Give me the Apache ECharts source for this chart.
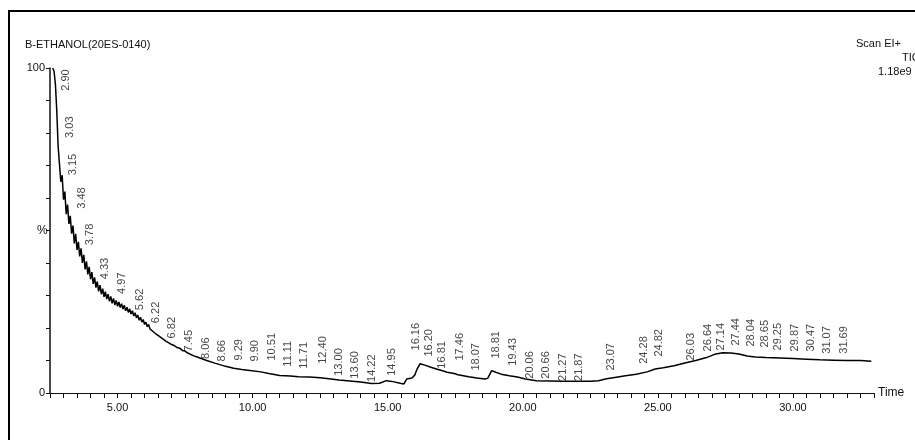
<!DOCTYPE html>
<html>
<head>
<meta charset="utf-8">
<script src="https://cdn.jsdelivr.net/npm/echarts@6/dist/echarts.min.js"></script>
<style>
  html, body { margin: 0; padding: 0; background: #fff; }
  #chart { width: 915px; height: 440px; }
</style>
</head>
<body>
<div id="chart"></div>
<script>
// TIC trace, retention time (min) and relative intensity (%)
const traceTimes = [
    2.60, 2.65, 2.70, 2.75, 2.80, 2.85, 2.90, 2.95, 3.00, 3.05,
    3.10, 3.15, 3.20, 3.25, 3.30, 3.35, 3.40, 3.45, 3.50, 3.55,
    3.60, 3.65, 3.70, 3.75, 3.80, 3.85, 3.90, 3.95, 4.00, 4.05,
    4.10, 4.15, 4.20, 4.25, 4.30, 4.35, 4.40, 4.45, 4.50, 4.55,
    4.60, 4.65, 4.70, 4.75, 4.80, 4.85, 4.90, 4.95, 5.00, 5.05,
    5.10, 5.15, 5.20, 5.25, 5.30, 5.35, 5.40, 5.45, 5.50, 5.55,
    5.60, 5.65, 5.70, 5.75, 5.80, 5.85, 5.90, 5.95, 6.00, 6.05,
    6.10, 6.15, 6.20, 6.25, 6.30, 6.35, 6.40, 6.45, 6.50, 6.55,
    6.60, 6.65, 6.70, 6.75, 6.80, 6.85, 6.90, 6.95, 7.00, 7.10,
    7.20, 7.30, 7.40, 7.50, 7.60, 7.80, 8.00, 8.30, 8.60, 9.00,
    9.30, 9.60, 9.90, 10.30, 10.60, 11.00, 11.40, 11.70, 12.10, 12.50,
    12.90, 13.20, 13.60, 14.00, 14.40, 14.70, 14.95, 15.20, 15.50, 15.60,
    15.70, 15.90, 16.00, 16.10, 16.20, 16.40, 16.60, 16.80, 17.00, 17.20,
    17.46, 17.60, 17.80, 18.00, 18.30, 18.60, 18.70, 18.85, 19.00, 19.20,
    19.50, 19.80, 20.10, 20.50, 21.00, 21.50, 22.00, 22.50, 22.80, 23.10,
    23.40, 23.80, 24.20, 24.60, 24.90, 25.20, 25.60, 26.00, 26.40, 26.80,
    27.10, 27.40, 27.70, 28.00, 28.30, 28.60, 29.00, 29.50, 30.00, 30.50,
    31.00, 31.50, 32.00, 32.50, 32.90
];
const traceValues = [
    100, 99, 95, 87, 76, 70.5, 65, 67, 59.5, 62,
    55, 58, 52, 54.5, 49, 51.5, 46, 49, 44, 46.5,
    42, 44.5, 40, 42.5, 38, 40.5, 36.5, 38.8, 35, 37.2,
    33.6, 35.6, 32.4, 34.3, 31.3, 33.2, 30.4, 32.1, 29.6, 31.2,
    28.9, 30.4, 28.2, 29.7, 27.6, 29.1, 27.1, 28.5, 26.7, 28.0,
    26.3, 27.5, 25.8, 27.0, 25.3, 26.4, 24.8, 25.9, 24.3, 25.3,
    23.7, 24.7, 23.1, 24.0, 22.4, 23.3, 21.8, 22.6, 21.1, 21.8,
    20.4, 21.1, 19.7, 20.3, 19.0, 19.6, 18.3, 18.9, 17.7, 18.1,
    17.1, 17.5, 16.5, 16.9, 15.9, 16.2, 15.4, 15.6, 14.9, 14.6,
    14.0, 13.8, 13.1, 12.9, 12.3, 11.5, 10.9, 10.0, 9.2, 8.2,
    7.6, 7.2, 6.9, 6.5, 6.0, 5.4, 5.2, 5.0, 4.9, 4.7,
    4.3, 4.0, 3.7, 3.4, 2.9, 3.0, 3.8, 3.5, 2.9, 2.8,
    4.3, 4.6, 5.5, 7.6, 9.0, 8.5, 7.9, 7.4, 6.9, 6.4,
    6.0, 5.6, 5.3, 5.0, 4.6, 4.3, 4.5, 6.9, 6.4, 5.8,
    5.3, 4.9, 4.3, 3.8, 3.7, 3.6, 3.6, 3.6, 3.8, 4.4,
    4.8, 5.3, 5.8, 6.5, 7.4, 7.8, 8.4, 9.2, 10.0, 10.9,
    11.9, 12.4, 12.3, 12.0, 11.4, 11.1, 10.9, 10.8, 10.6, 10.4,
    10.2, 10.1, 10.0, 10.0, 9.8
];

// labelled peaks: retention time and height where the label starts
const peakTimes = [
    2.90, 3.03, 3.15, 3.48, 3.78, 4.33, 4.97, 5.62, 6.22, 6.82,
    7.45, 8.06, 8.66, 9.29, 9.90, 10.51, 11.11, 11.71, 12.40, 13.00,
    13.60, 14.22, 14.95, 16.16, 16.20, 16.81, 17.46, 18.07, 18.81, 19.43,
    20.06, 20.66, 21.27, 21.87, 23.07, 24.28, 24.82, 26.03, 26.64, 27.14,
    27.44, 28.04, 28.65, 29.25, 29.87, 30.47, 31.07, 31.69
];
const peakHeights = [
    93, 78.5, 67, 56.7, 45.5, 35, 30.5, 25.5, 21.5, 16.8,
    12.8, 10.5, 9.7, 10, 9.7, 10.0, 8.1, 7.5, 9.0, 5.3,
    4.4, 3.4, 5.3, 13.1, 11.2, 7.5, 10.0, 6.9, 10.6, 8.4,
    4.4, 4.4, 3.7, 3.7, 6.9, 9.0, 11.2, 10.0, 12.8, 13.1,
    14.6, 14.3, 14.0, 13.1, 12.8, 12.8, 12.1, 12.1
];

const sampleName = "B-ETHANOL(20ES-0140)";
const headerLines = ["Scan EI+", "TIC", "1.18e9"];

const FONT = "'Liberation Sans', Arial, sans-serif";
const INK = "#111";

// crowded labels are nudged sideways (px), like the instrument software does
const labelNudge = { 23: -9, 24: 3, 40: 7, 41: 5, 42: 3 };

const chart = echarts.init(document.getElementById("chart"));

const option = {
    animation: false,
    backgroundColor: "#fff",
    textStyle: { fontFamily: FONT },
    grid: { left: 50, right: 41, top: 68, bottom: 47 },
    graphic: [
        {
            type: "rect",
            shape: { x: 9, y: 11, width: 1000, height: 1000 },
            style: { fill: "none", stroke: "#000", lineWidth: 2 }
        },
        {
            type: "text", left: 25, top: 39,
            style: { text: sampleName, font: "11px " + FONT, fill: INK }
        },
        {
            type: "text", left: 856, top: 38,
            style: { text: headerLines[0], font: "11px " + FONT, fill: INK }
        },
        {
            type: "text", left: 902, top: 52,
            style: { text: headerLines[1], font: "11px " + FONT, fill: INK }
        },
        {
            type: "text", left: 878, top: 66,
            style: { text: headerLines[2], font: "11px " + FONT, fill: INK }
        },
        {
            type: "text", left: 37, top: 225,
            style: { text: "%", font: "12px " + FONT, fill: INK }
        }
    ],
    xAxis: {
        type: "value",
        min: 2.5,
        max: 33,
        interval: 0.5,
        name: "Time",
        nameLocation: "end",
        nameGap: 4,
        nameTextStyle: { color: INK, fontSize: 12, fontFamily: FONT },
        splitLine: { show: false },
        axisLine: { lineStyle: { color: INK, width: 1 } },
        axisTick: { length: 5, lineStyle: { color: INK } },
        axisLabel: {
            color: INK,
            fontSize: 11,
            margin: 9,
            formatter: v => (Math.abs(v % 5) < 1e-6 ? v.toFixed(2) : "")
        }
    },
    yAxis: {
        type: "value",
        min: 0,
        max: 100,
        interval: 10,
        splitLine: { show: false },
        axisLine: { show: true, lineStyle: { color: INK, width: 1.5 } },
        axisTick: { length: 4, lineStyle: { color: INK } },
        axisLabel: {
            color: INK,
            fontSize: 11,
            margin: 5,
            formatter: v => (v === 0 || v === 100 ? String(v) : "")
        }
    },
    series: [
        {
            type: "line",
            data: traceTimes.map((t, i) => [t, traceValues[i]]),
            showSymbol: false,
            lineStyle: { color: "#000", width: 1.5 },
            silent: true
        },
        {
            type: "scatter",
            symbolSize: 0,
            silent: true,
            data: peakTimes.map((t, i) => {
                const item = { value: [t, peakHeights[i]] };
                if (labelNudge[i] !== undefined) {
                    item.label = { position: [labelNudge[i], 0] };
                }
                return item;
            }),
            label: {
                show: true,
                position: [0, 0],
                rotate: 90,
                align: "left",
                verticalAlign: "top",
                color: INK,
                fontSize: 11,
                fontFamily: FONT,
                formatter: p => p.value[0].toFixed(2)
            }
        }
    ]
};

chart.setOption(option);
</script>
</body>
</html>
